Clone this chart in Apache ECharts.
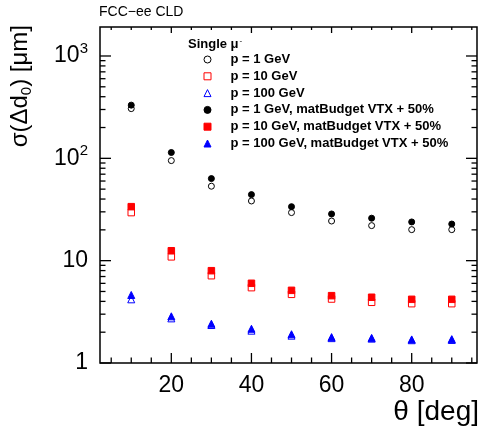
<!DOCTYPE html>
<html><head><meta charset="utf-8">
<script src="https://cdn.jsdelivr.net/npm/echarts@6/dist/echarts.min.js"></script>
<style>html,body{margin:0;padding:0;background:#fff}#c{width:482px;height:429px}</style>
</head><body><div id="c"></div>
<script>
const FONT = '"Liberation Sans", Arial, Helvetica, sans-serif';
const theta = [10, 20, 30, 40, 50, 60, 70, 80, 90];
const p1 = [306, 95, 53.4, 38.3, 29.5, 24.4, 22.0, 20.1, 20.1];
const p10 = [29.5, 10.9, 7.13, 5.45, 4.69, 4.22, 3.92, 3.80, 3.80];
const p100 = [4.19, 2.73, 2.35, 2.07, 1.85, 1.75, 1.73, 1.67, 1.68];
const p1mb = [331, 114, 63.4, 44.2, 33.7, 28.6, 26.0, 23.9, 22.8];
const p10mb = [33.7, 12.5, 7.98, 6.01, 5.13, 4.55, 4.39, 4.19, 4.19];
const p100mb = [4.62, 2.86, 2.42, 2.16, 1.91, 1.79, 1.76, 1.70, 1.71];
const seriesNames = ['p = 1 GeV', 'p = 10 GeV', 'p = 100 GeV',
  'p = 1 GeV, matBudget VTX + 50%', 'p = 10 GeV, matBudget VTX + 50%', 'p = 100 GeV, matBudget VTX + 50%'];
const xMajorTicks = [20, 40, 60, 80];
const xTickLabels = ['20', '40', '60', '80'];
const xMinorTicks = [5, 10, 15, 25, 30, 35, 45, 50, 55, 65, 70, 75, 85, 90, 95];
const yMajorTicks = [1, 10, 100, 1000];
const yTickLabels = ['1', '10', '10{sup|2}', '10{sup|3}'];
const yMinorTicks = [2, 3, 4, 5, 6, 7, 8, 9, 20, 30, 40, 50, 60, 70, 80, 90, 200, 300, 400, 500, 600, 700, 800, 900];
const xRange = [2.2, 96.3];
const yRange = [1, 1920];

const BLACK = '#000000', RED = '#ff0000', BLUE = '#0000ff';
const styles = [
  {symbol: 'circle', size: 6, filled: false, border: BLACK},
  {symbol: 'rect', size: 6.5, filled: false, border: RED},
  {symbol: 'triangle', size: 7, filled: false, border: BLUE},
  {symbol: 'circle', size: 6, filled: true, border: BLACK},
  {symbol: 'rect', size: 6.5, filled: true, border: RED},
  {symbol: 'triangle', size: 7, filled: true, border: BLUE}
];
const values = [p1, p10, p100, p1mb, p10mb, p100mb];

const chart = echarts.init(document.getElementById('c'), null, {renderer: 'canvas'});

function renderTicks(params, api) {
  const cs = params.coordSys;
  const left = cs.x, right = cs.x + cs.width, top = cs.y, bottom = cs.y + cs.height;
  const ch = [];
  const st = {stroke: '#000', lineWidth: 1.3};
  const line = (x1, y1, x2, y2) => ch.push({type: 'line', shape: {x1, y1, x2, y2}, style: st, silent: true});
  xMajorTicks.forEach(v => { const x = api.coord([v, yRange[0]])[0]; line(x, bottom, x, bottom - 10); line(x, top, x, top + 6); });
  xMinorTicks.forEach(v => { const x = api.coord([v, yRange[0]])[0]; line(x, bottom, x, bottom - 5.5); line(x, top, x, top + 3); });
  yMajorTicks.forEach(v => { const y = api.coord([xRange[0], v])[1]; line(left, y, left + 11, y); line(right, y, right - 11, y); });
  yMinorTicks.forEach(v => { const y = api.coord([xRange[0], v])[1]; line(left, y, left + 5.5, y); line(right, y, right - 5.5, y); });
  return {type: 'group', children: ch};
}

const series = values.map((vals, i) => ({
  name: seriesNames[i],
  type: 'scatter',
  symbol: styles[i].symbol,
  symbolSize: styles[i].size,
  symbolKeepAspect: true,
  itemStyle: {color: styles[i].filled ? styles[i].border : 'rgba(255,255,255,0)', borderColor: styles[i].border, borderWidth: 1, opacity: 1},
  data: theta.map((t, k) => [t, vals[k]]),
  z: 3 + i
}));
series.push({
  type: 'custom', renderItem: renderTicks, data: [[50, 10]], silent: true, clip: false, z: 10
});

chart.setOption({
  animation: false,
  backgroundColor: '#ffffff',
  textStyle: {fontFamily: FONT},
  title: [
    {text: 'FCC\u2212ee CLD', left: 99, top: 5, padding: 0,
     textStyle: {fontSize: 14, fontWeight: 'normal', color: '#000', fontFamily: FONT}},
    {text: 'Single \u03bc{sup|-}', left: 188, top: 37, padding: 0,
     textStyle: {fontSize: 13, fontWeight: 'bold', color: '#000', fontFamily: FONT,
       rich: {sup: {fontSize: 8, fontWeight: 'normal', verticalAlign: 'top', padding: [0, 0, 6, 1]}}}}
  ],
  legend: {
    orient: 'vertical', left: 203.5, top: 51.5, padding: 0,
    itemWidth: 7, itemHeight: 7, itemGap: 0.8,
    selectedMode: false,
    textStyle: {fontSize: 13, fontWeight: 'bold', color: '#000', fontFamily: FONT, lineHeight: 16, padding: [0, 0, 0, 14.5]},
    data: seriesNames.map((n, i) => ({
      name: n,
      icon: styles[i].symbol,
      itemStyle: {color: styles[i].filled ? styles[i].border : '#ffffff', borderColor: styles[i].border, borderWidth: 1}
    }))
  },
  grid: {left: 100, right: 3, top: 27, bottom: 66, show: true, borderColor: '#000', borderWidth: 1.5, backgroundColor: 'transparent'},
  xAxis: {
    type: 'value', min: xRange[0], max: xRange[1],
    name: '\u03b8 [deg]', nameLocation: 'end', nameGap: 2, nameMoveOverlap: false,
    nameTextStyle: {fontSize: 28, color: '#000', fontFamily: FONT, align: 'right', verticalAlign: 'top', padding: [35, 0, 0, 0]},
    axisLine: {show: false}, axisTick: {show: false}, splitLine: {show: false},
    axisLabel: {customValues: xMajorTicks, formatter: v => { const k = xMajorTicks.indexOf(Math.round(v)); return k >= 0 ? xTickLabels[k] : ''; },
      fontSize: 23, color: '#000', fontFamily: FONT, margin: 11}
  },
  yAxis: {
    type: 'log', logBase: 10, min: yRange[0], max: yRange[1],
    name: '{t|\u03c3(\u0394d}{s|0}{t|) [\u03bcm]}', nameLocation: 'end', nameGap: 2, nameRotate: 90, nameMoveOverlap: false,
    nameTextStyle: {color: '#000', fontFamily: FONT, align: 'right', verticalAlign: 'bottom', padding: [0, 0, 66, 0],
      rich: {t: {fontSize: 24, fontFamily: FONT, color: '#000'}, s: {fontSize: 15, fontFamily: FONT, color: '#000', padding: [12, 0, 0, 0]}}},
    axisLine: {show: false}, axisTick: {show: false}, splitLine: {show: false}, minorTick: {show: false},
    axisLabel: {
      formatter: v => { const e = Math.log10(v); const r = Math.round(e); if (Math.abs(e - r) > 1e-6) return ''; const k = yMajorTicks.indexOf(Math.pow(10, r)); return k >= 0 ? yTickLabels[k] : ''; },
      fontSize: 23, color: '#000', fontFamily: FONT, margin: 12,
      rich: {sup: {fontSize: 15, fontFamily: FONT, color: '#000', padding: [0, 0, 14, 0]}}
    }
  },
  series: series
});
</script></body></html>
